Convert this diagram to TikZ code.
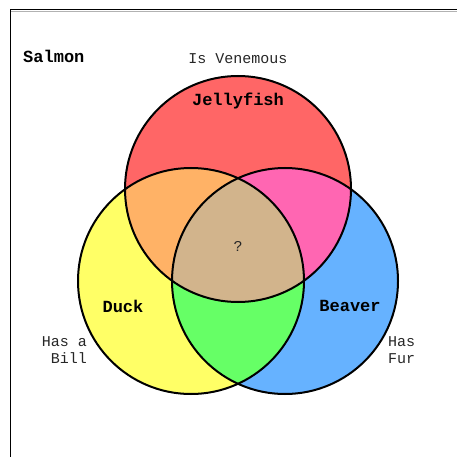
\documentclass[tikz,border=0pt]{standalone}
\usepackage{fontspec}
\setmonofont{Liberation Mono}
\definecolor{cred}{HTML}{FF6666}
\definecolor{cyel}{HTML}{FFFF66}
\definecolor{cblu}{HTML}{66B2FF}
\definecolor{corg}{HTML}{FFB266}
\definecolor{cpnk}{HTML}{FF66B2}
\definecolor{cgrn}{HTML}{66FF66}
\definecolor{ctan}{HTML}{D2B48C}
\begin{document}
\begin{tikzpicture}[x=1pt,y=-1pt,
  lab/.style={font=\ttfamily\fontsize{15}{17}\selectfont, inner sep=0pt, text=black!85},
  blab/.style={font=\ttfamily\bfseries\fontsize{17}{19}\selectfont, inner sep=0pt},
  ring/.style={draw=black, line width=2pt}]
\useasboundingbox (0,0) rectangle (457,457);
\def\R{113pt}
\coordinate (cr) at (238,189);
\coordinate (cy) at (191,281);
\coordinate (cb) at (285,281);
% frame
\coordinate (fbl) at (10.5,457);
\coordinate (ftl) at (10.5,9.5);
\coordinate (ftr) at (457,9.5);
\draw[black!30, line width=1pt] (11,11.5) -- (457,11.5);
\draw[black, line width=1.2pt] (fbl) -- (ftl) -- (ftr);
% fills
\fill[cred] (cr) circle[radius=\R];
\fill[cyel] (cy) circle[radius=\R];
\fill[cblu] (cb) circle[radius=\R];
\begin{scope}\clip (cr) circle[radius=\R]; \fill[corg] (cy) circle[radius=\R];\end{scope}
\begin{scope}\clip (cr) circle[radius=\R]; \fill[cpnk] (cb) circle[radius=\R];\end{scope}
\begin{scope}\clip (cy) circle[radius=\R]; \fill[cgrn] (cb) circle[radius=\R];\end{scope}
\begin{scope}\clip (cr) circle[radius=\R]; \clip (cy) circle[radius=\R]; \fill[ctan] (cb) circle[radius=\R];\end{scope}
% outlines
\draw[ring] (cr) circle[radius=\R];
\draw[ring] (cy) circle[radius=\R];
\draw[ring] (cb) circle[radius=\R];
% labels
\node[blab, anchor=west] (salmon) at (23,56) {Salmon};
\node[lab] (ven) at (238,59) {Is Venemous};
\node[blab] (jelly) at (238,101) {Jellyfish};
\node[lab] (q) at (238,246) {?};
\node[blab] (duck) at (123,306) {Duck};
\node[blab] (beaver) at (350,306) {Beaver};
\node[lab, align=right, anchor=east] (bill) at (87,350) {Has a\\Bill};
\node[lab, align=left, anchor=west] (fur) at (388,350) {Has\\Fur};
\end{tikzpicture}
\end{document}
